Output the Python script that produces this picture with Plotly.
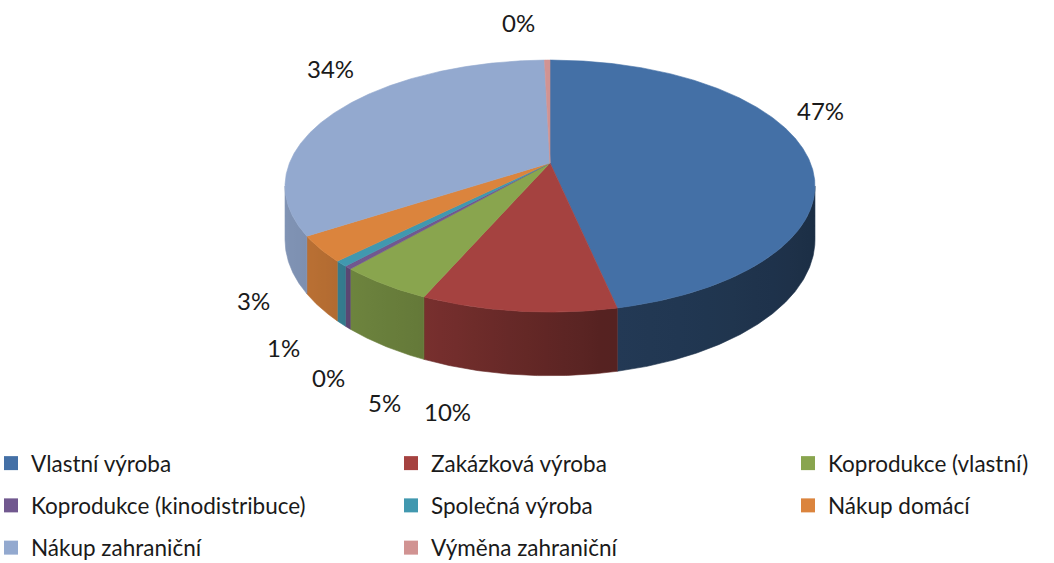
import numpy as np
import plotly.graph_objects as go

# ---------------- data ----------------
categories = [
    "Vlastní výroba",
    "Zakázková výroba",
    "Koprodukce (vlastní)",
    "Koprodukce (kinodistribuce)",
    "Společná výroba",
    "Nákup domácí",
    "Nákup zahraniční",
    "Výměna zahraniční",
]
values = [46.6, 10.0, 4.9, 0.4, 0.7, 3.3, 33.7, 0.4]

# ---------------- styles ----------------
top_colors = ["#4470a6", "#a54240", "#89a54e", "#71588f",
              "#4198af", "#db843d", "#93a9cf", "#d19392"]
# label anchor positions (pixels) chosen like the original layout
label_xy = [(820, 110), (447, 411), (384, 402), (328, 377),
            (283, 347), (253, 300), (330, 68), (518, 22)]
# legend laid out in three columns (each column is its own legend)
legend_cols = [[0, 3, 6], [1, 4, 7], [2, 5]]
legend_col_x = [-9, 391, 788]      # px
legend_top_y = 442                 # px

W, H = 1054, 563
CX, CY = 550, 163          # apex of the pie (screen px)
A, B, K = 260.5, 121.8, 0.183
DEPTH = 52
FONT = "Lato"

def hex2rgb(h):
    h = h.lstrip("#")
    return [int(h[i:i + 2], 16) for i in (0, 2, 4)]

def shade(hexc, f):
    r, g, b = hex2rgb(hexc)
    return "rgb(%d,%d,%d)" % (r * f, g * f, b * f)

def side_factor(theta):
    pts_t = [100, 170, 205, 221, 240, 260]
    pts_f = [0.40, 0.52, 0.74, 0.80, 0.86, 0.88]
    return float(np.interp(theta, pts_t, pts_f))

def rim(theta_deg, drop=0.0):
    t = np.radians(theta_deg)
    d, s = np.cos(t), np.sin(t)
    w = 1 + K * d
    return CX + A * s / w, CY - B * d / w + drop / w

total = sum(values)
angles = np.concatenate([[0], np.cumsum(values) / total * 360.0])

fig = go.Figure()

# --- sides (visible front part only) ---
sil = np.degrees(np.arccos(-K))      # right silhouette angle
lo, hi = sil, 360 - sil
for i, c in enumerate(categories):
    a1, a2 = max(angles[i], lo), min(angles[i + 1], hi)
    if a2 <= a1:
        continue
    n = max(3, int((a2 - a1) * 3))
    th = np.linspace(a1, a2, n)
    xt, yt = rim(th)
    xb, yb = rim(th[::-1], DEPTH)
    xs = np.concatenate([xt, xb, [xt[0]]])
    ys = np.concatenate([yt, yb, [yt[0]]])
    xmin, xmax = float(xt.min()), float(xt.max())
    samp = np.linspace(a2, a1, 12)      # left -> right on screen
    sx, _ = rim(samp)
    if xmax - xmin < 1e-6:
        cs = [[0, shade(top_colors[i], side_factor(a1))],
              [1, shade(top_colors[i], side_factor(a1))]]
    else:
        cs = [[float((x - xmin) / (xmax - xmin)), shade(top_colors[i], side_factor(t))]
              for x, t in zip(sx, samp)]
        cs[0][0], cs[-1][0] = 0.0, 1.0
    mid_col = shade(top_colors[i], side_factor((a1 + a2) / 2))
    fig.add_trace(go.Scatter(
        x=xs, y=ys, mode="lines", fill="toself",
        line=dict(width=0.6, color=mid_col),
        fillcolor=mid_col,
        fillgradient=dict(type="horizontal", colorscale=cs, start=xmin, stop=xmax),
        hoverinfo="skip", showlegend=False))

# --- top faces ---
for i, c in enumerate(categories):
    a1, a2 = angles[i], angles[i + 1]
    n = max(3, int((a2 - a1) * 3))
    th = np.linspace(a1, a2, n)
    xr, yr = rim(th)
    xs = np.concatenate([[CX], xr, [CX]])
    ys = np.concatenate([[CY], yr, [CY]])
    fig.add_trace(go.Scatter(
        x=xs, y=ys, mode="lines", fill="toself",
        line=dict(width=0.6, color=top_colors[i]),
        fillcolor=top_colors[i], name=c,
        hoverinfo="name", showlegend=False))

# --- percentage labels ---
for i, v in enumerate(values):
    pct = int(v / total * 100 + 0.5)
    lx, ly = label_xy[i]
    fig.add_annotation(x=lx, y=ly, xref="x", yref="y", text=f"{pct}%",
                       showarrow=False, xanchor="center", yanchor="middle",
                       font=dict(family=FONT, size=24, color="#1a1a1a"))

# --- legend (three columns) ---
legend_names = ["legend", "legend2", "legend3"]
for col, items in enumerate(legend_cols):
    for i in items:
        fig.add_trace(go.Scatter(
            x=[None], y=[None], mode="markers", name=categories[i],
            marker=dict(symbol="square", size=14, color=top_colors[i]),
            legend=legend_names[col], legendgroup=f"g{i}", hoverinfo="skip"))

leg_common = dict(orientation="v", xanchor="left", yanchor="top",
                  y=1 - legend_top_y / H, tracegroupgap=10,
                  bgcolor="rgba(0,0,0,0)",
                  font=dict(family=FONT, size=22.5, color="#1a1a1a"),
                  itemclick=False, itemdoubleclick=False)

fig.update_layout(
    width=W, height=H,
    margin=dict(l=0, r=0, t=0, b=0, autoexpand=False),
    paper_bgcolor="white", plot_bgcolor="white",
    xaxis=dict(range=[0, W], visible=False, fixedrange=True),
    yaxis=dict(range=[H, 0], visible=False, fixedrange=True),
    legend=dict(x=legend_col_x[0] / W, **leg_common),
    legend2=dict(x=legend_col_x[1] / W, **leg_common),
    legend3=dict(x=legend_col_x[2] / W, **leg_common),
    showlegend=True,
)

fig.write_html("out.html", config={"displayModeBar": False},
               post_script="document.body.style.margin='0';document.body.style.overflow='hidden';")
